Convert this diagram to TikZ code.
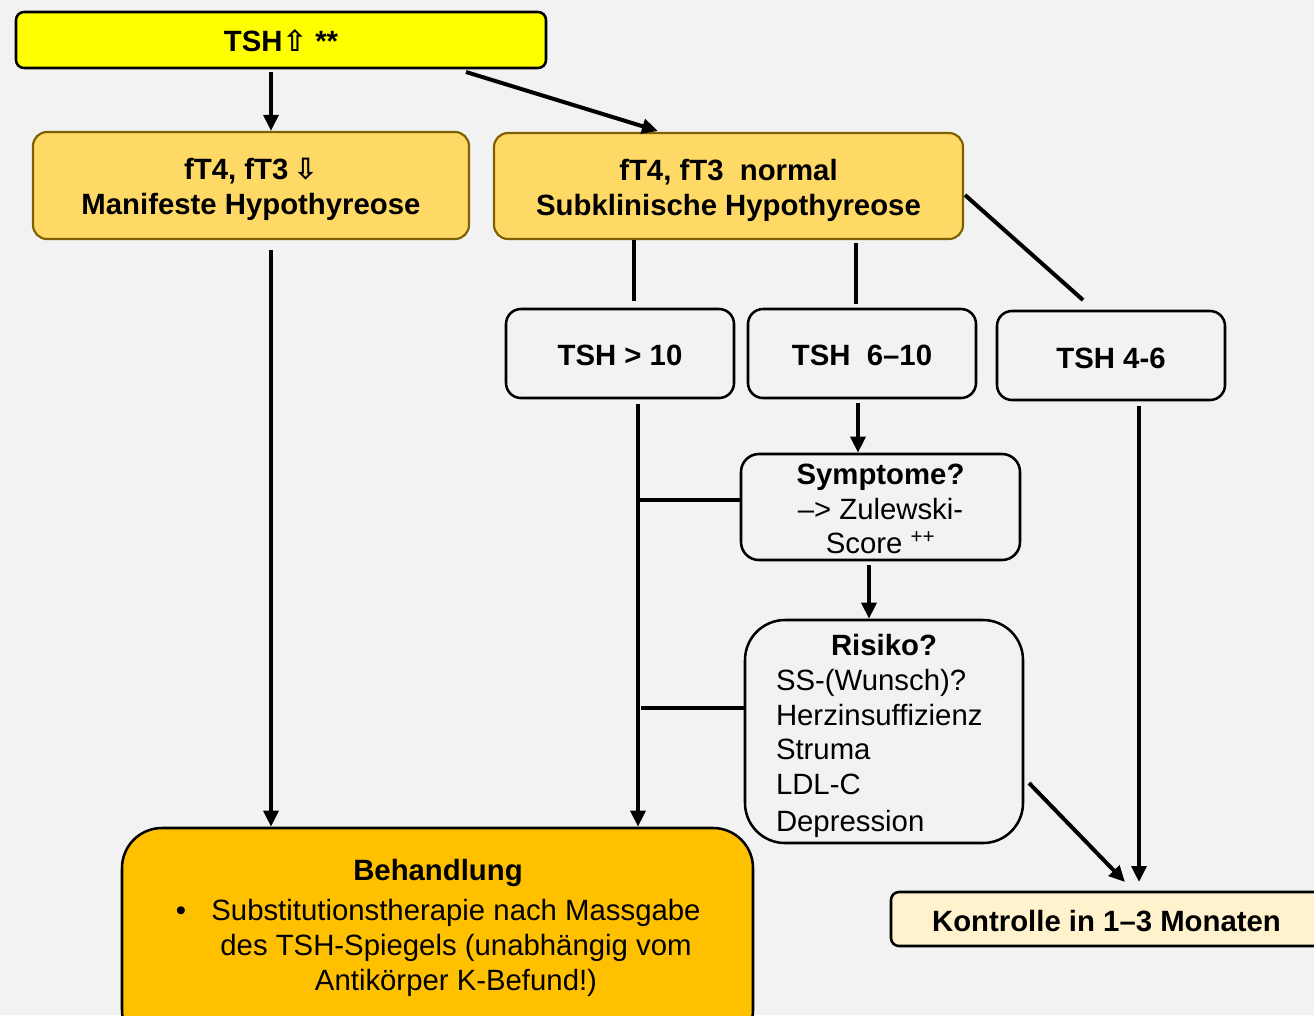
\documentclass[tikz,border=0pt]{standalone}
\usepackage{fontspec}
\setmainfont{Liberation Sans}
\newfontfamily\symfont{DejaVu Sans}
\usetikzlibrary{arrows.meta}
\definecolor{bg}{HTML}{F2F2F2}
\definecolor{topyellow}{HTML}{FFFF00}
\definecolor{gold}{HTML}{FFD966}
\definecolor{goldborder}{HTML}{7F6000}
\definecolor{orangefill}{HTML}{FFC000}
\definecolor{cream}{HTML}{FFF2CC}
\begin{document}
\begin{tikzpicture}[x=0.75pt,y=-0.75pt,
  txt/.style={font=\fontsize{22}{26}\selectfont, align=center, inner sep=0pt},
  btxt/.style={txt, font=\fontsize{22}{26}\selectfont\bfseries},
  box/.style={draw=black, line width=1.9pt, fill=bg, inner sep=0pt},
  goldbox/.style={draw=goldborder, line width=1.6pt, fill=gold, rounded corners=10.5pt, inner sep=0pt},
  tshbox/.style={box, rounded corners=11.25pt, minimum width=171pt, minimum height=66.75pt},
  conn/.style={line width=3pt, black},
  arr/.style={conn, -{Triangle[length=12pt,width=11pt]}}
]
\useasboundingbox (0,0) rectangle (1314,1015);
\clip (0,0) rectangle (1314,1015);
\fill[bg] (0,0) rectangle (1314,1015);

% boxes
\node[box, fill=topyellow, rounded corners=6pt, minimum width=397.5pt, minimum height=42pt] (top) at (281,40) {};
\node[btxt] (topt) at ([yshift=-0.5pt]top.center) {TSH{\symfont ⇧} **};

\node[goldbox, minimum width=327pt, minimum height=80.25pt] (man) at (251,185.5) {};
\node[btxt] (mant) at ([yshift=-3pt]man.center) {fT4, fT3\,{\symfont ⇩}\\Manifeste Hypothyreose};

\node[goldbox, minimum width=351.75pt, minimum height=79.5pt] (sub) at (728.5,186) {};
\node[btxt] (subt) at ([yshift=-3.5pt]sub.center) {fT4, fT3\ \ normal\\Subklinische Hypothyreose};

\node[tshbox] (t10) at (620,353.5) {};
\node[btxt] (t10t) at ([yshift=-1.5pt]t10.center) {TSH > 10};
\node[tshbox] (t610) at (862,353.5) {};
\node[btxt] (t610t) at ([yshift=-1.5pt]t610.center) {TSH\ \ 6–10};
\node[tshbox] (t46) at (1111,355.5) {};
\node[btxt] (t46t) at ([yshift=-2pt]t46.center) {TSH 4-6};

\node[box, rounded corners=13.5pt, minimum width=209.25pt, minimum height=79.5pt] (sym) at (880.5,507) {};
\node[txt] (symt) at ([yshift=-1.5pt]sym.center) {\textbf{Symptome?}\\–> Zulewski-\\Score \textsuperscript{++}};

\node[box, rounded corners=30pt, minimum width=208.5pt, minimum height=167.25pt] (ris) at (884,731.5) {};
\node[txt, text width=162pt, align=left] (rist) at ([yshift=-3.5pt]ris.center)
  {\makebox[162pt]{\bfseries Risiko?}\\SS-(Wunsch)?\\Herzinsuffizienz\\Struma\\LDL-C\\[2pt]Depression};

\node[box, fill=orangefill, rounded corners=30pt, minimum width=473.25pt, minimum height=166.5pt] (beh) at (437.5,939) {};
\node[btxt] (behtitle) at (438,872.5) {Behandlung};
\node[txt] (behbody) at (456,948)
  {\llap{\textbullet\hspace{19pt}}Substitutionstherapie nach Massgabe\\des TSH-Spiegels (unabhängig vom\\Antikörper K-Befund!)};

\node[box, fill=cream, rounded corners=6pt, minimum width=323.25pt, minimum height=40.5pt] (kon) at (1106.5,919) {};
\node[btxt] (kont) at ([yshift=-1.5pt]kon.center) {Kontrolle in 1–3 Monaten};

% connector endpoints
\coordinate (a1) at (271,72);
\coordinate (a2s) at (466,72);
\coordinate (a2e) at (658,131);
\coordinate (l3s) at (634,240);
\coordinate (l3e) at (634,301);
\coordinate (l4s) at (856,243);
\coordinate (l4e) at (856,304);
\coordinate (l5s) at (965,195);
\coordinate (l5e) at (1083,300);
\coordinate (a6) at (271,250);
\coordinate (a7) at (638,404);
\coordinate (a8) at (858,403);
\coordinate (h9) at (638,500);
\coordinate (a10) at (869,565);
\coordinate (h11) at (641,708);
\coordinate (a12s) at (1029,783);
\coordinate (a12e) at (1125,882);
\coordinate (a13) at (1139,406);

\draw[arr] (a1) -- (a1 |- man.north);
\draw[arr] (a2s) -- (a2e);
\draw[conn] (l3s) -- (l3e);
\draw[conn] (l4s) -- (l4e);
\draw[conn] (l5s) -- (l5e);
\draw[arr] (a6) -- (a6 |- beh.north);
\draw[arr] (a7) -- (a7 |- beh.north);
\draw[arr] (a8) -- (a8 |- sym.north);
\draw[conn] (h9) -- (h9 -| sym.west);
\draw[arr] (a10) -- (a10 |- ris.north);
\draw[conn] (h11) -- (h11 -| ris.west);
\draw[arr] (a12s) -- (a12e);
\draw[arr] (a13) -- ([yshift=6.5pt]a13 |- kon.north);
\end{tikzpicture}
\end{document}
